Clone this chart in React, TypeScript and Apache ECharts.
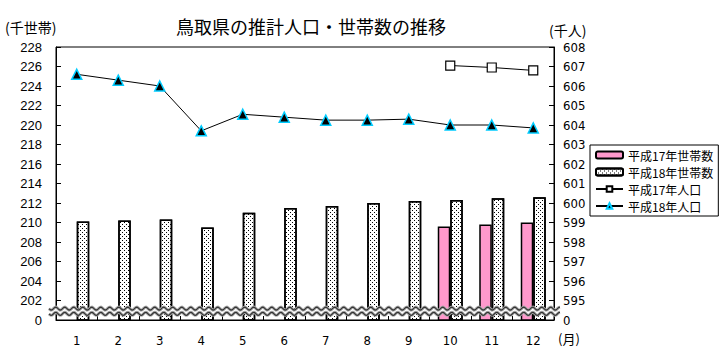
import React, { useEffect, useRef } from "react";
import * as echarts from "echarts";

const months = ["1", "2", "3", "4", "5", "6", "7", "8", "9", "10", "11", "12"];
const households17 = [null, null, null, null, null, null, null, null, null, 209.6, 209.8, 210.0];
const households18 = [210.1, 210.2, 210.3, 209.5, 211.0, 211.5, 211.7, 212.0, 212.2, 212.3, 212.5, 212.6];
const population17 = [null, null, null, null, null, null, null, null, null, 607.05, 606.95, 606.8];
const population18 = [606.6, 606.3, 606.0, 603.7, 604.55, 604.4, 604.25, 604.25, 604.3, 604.0, 604.0, 603.85];
const seriesNames = ["平成17年世帯数", "平成18年世帯数", "平成17年人口", "平成18年人口"];
const leftAxis = { min: 200, max: 228, interval: 2, zeroLabelAt: 200 };
const rightAxis = { min: 594, max: 608, interval: 1, zeroLabelAt: 594 };
const breakValue = 200.9;

const JP = "'Noto Sans CJK JP', 'Noto Sans', sans-serif";
const NUM = "'Liberation Sans', Arial, sans-serif";
const NARROW = "'Liberation Sans Narrow', 'DejaVu Sans Condensed', 'Liberation Sans', sans-serif";

function wavePoints(x0: number, x1: number, yBase: number, amp: number, period: number) {
  const pts: string[] = [];
  for (let x = x0; x <= x1; x += 1) {
    const y = yBase + amp * Math.sin(((x - x0) / period) * Math.PI * 2);
    pts.push(`${x.toFixed(1)} ${y.toFixed(2)}`);
  }
  return pts;
}

export default function App() {
  const ref = useRef<HTMLDivElement>(null);
  useEffect(() => {
    if (!ref.current) return;
    const chart = echarts.init(ref.current, undefined, { renderer: "svg" });
    const option: any = {
      animation: false,
      backgroundColor: "#fff",
      title: {
        text: "鳥取県の推計人口・世帯数の推移",
        left: 306,
        textAlign: "center",
        top: 12,
        textStyle: { fontFamily: JP, fontSize: 18, fontWeight: "normal", color: "#000" },
      },
      graphic: [
        { type: "text", left: 5, top: 20, style: { text: "(千世帯)", font: `14px ${JP}`, fill: "#000" } },
        { type: "text", left: 549, top: 23, style: { text: "(千人)", font: `14px ${JP}`, fill: "#000" } },
        { type: "text", left: 558, top: 332, style: { text: "(月)", font: `13px ${JP}`, fill: "#000" } },
      ],
      legend: {
        orient: "vertical",
        left: 590,
        top: 145,
        data: seriesNames,
        itemWidth: 27,
        itemHeight: 7,
        itemGap: 3,
        itemTextGap: 4,
        padding: [3, 5, 3, 5],
        borderColor: "#000",
        borderWidth: 1,
        borderRadius: 0,
        backgroundColor: "#fff",
        textStyle: { fontFamily: JP, fontSize: 12, lineHeight: 14, color: "#000" },
      },
      grid: {
        left: 56,
        right: 166,
        top: 47,
        bottom: 39,
        show: true,
        borderColor: "#000",
        borderWidth: 1,
        backgroundColor: "transparent",
      },
      xAxis: {
        type: "category",
        data: months,
        boundaryGap: true,
        axisLine: { lineStyle: { color: "#000", width: 1 } },
        axisTick: { show: true, inside: true, length: 4, lineStyle: { color: "#000" } },
        axisLabel: { margin: 14, color: "#000", fontFamily: NARROW, fontSize: 13 },
      },
      yAxis: [
        {
          type: "value",
          min: leftAxis.min,
          max: leftAxis.max,
          interval: leftAxis.interval,
          splitLine: { show: false },
          axisLine: { show: true, lineStyle: { color: "#000" } },
          axisTick: { show: true, inside: true, length: 5, lineStyle: { color: "#000" } },
          axisLabel: {
            margin: 14,
            color: "#000",
            fontFamily: NUM,
            fontSize: 13,
            formatter: (v: number) => (v === leftAxis.zeroLabelAt ? "0" : String(v)),
          },
        },
        {
          type: "value",
          min: rightAxis.min,
          max: rightAxis.max,
          interval: rightAxis.interval,
          splitLine: { show: false },
          axisLine: { show: true, lineStyle: { color: "#000" } },
          axisTick: { show: true, inside: true, length: 5, lineStyle: { color: "#000" } },
          axisLabel: {
            margin: 9,
            color: "#000",
            fontFamily: NARROW,
            fontSize: 13,
            formatter: (v: number) => (v === rightAxis.zeroLabelAt ? "0" : String(v)),
          },
        },
      ],
      series: [
        {
          name: seriesNames[0],
          type: "bar",
          data: households17,
          barWidth: 12.5,
          barGap: "0%",
          itemStyle: { color: "#ff99cc", borderColor: "#000", borderWidth: 1.5 },
          z: 2,
        },
        {
          name: seriesNames[1],
          type: "bar",
          data: households18,
          barWidth: 12.5,
          barGap: "0%",
          itemStyle: {
            color: "#fff",
            borderColor: "#000",
            borderWidth: 1.5,
            decal: {
              symbol: "rect",
              symbolSize: 1,
              color: "#000",
              dashArrayX: [[1, 3], [0, 2, 1, 1]],
              dashArrayY: [1, 1],
              rotation: 0,
            },
          },
          z: 2,
        },
        {
          name: seriesNames[2],
          type: "line",
          yAxisIndex: 1,
          data: population17,
          symbol: "rect",
          symbolSize: 9,
          lineStyle: { color: "#000", width: 1 },
          itemStyle: { color: "#fff", borderColor: "#000", borderWidth: 1.2 },
          z: 4,
        },
        {
          name: seriesNames[3],
          type: "line",
          yAxisIndex: 1,
          data: population18,
          symbol: "triangle",
          symbolSize: 10,
          lineStyle: { color: "#000", width: 1 },
          itemStyle: { color: "#000", borderColor: "#00ccff", borderWidth: 1.5 },
          z: 4,
        },
        {
          name: "break",
          type: "custom",
          silent: true,
          clip: false,
          z: 6,
          data: [[0, breakValue]],
          renderItem: (params: any, api: any) => {
            const cs = params.coordSys;
            const yc = api.coord([0, api.value(1)])[1];
            const x0 = cs.x - 7;
            const x1 = cs.x + cs.width + 6;
            const period = 9;
            const amp = 1.5;
            const half = 2.6;
            const top = wavePoints(x0, x1, yc - half, amp, period);
            const bot = wavePoints(x0, x1, yc + half, amp, period);
            const topD = "M" + top.join(" L");
            const botD = "M" + bot.join(" L");
            const fillD = "M" + top.join(" L") + " L" + bot.slice().reverse().join(" L") + " Z";
            return {
              type: "group",
              children: [
                { type: "path", shape: { pathData: fillD }, style: { fill: "#fff", stroke: null } },
                { type: "path", shape: { pathData: topD }, style: { fill: null, stroke: "#aaa", lineWidth: 3 } },
                { type: "path", shape: { pathData: topD }, style: { fill: null, stroke: "#333", lineWidth: 1.2 } },
                { type: "path", shape: { pathData: botD }, style: { fill: null, stroke: "#aaa", lineWidth: 3 } },
                { type: "path", shape: { pathData: botD }, style: { fill: null, stroke: "#333", lineWidth: 1.2 } },
              ],
            };
          },
        },
      ],
    };
    chart.setOption(option);
    return () => chart.dispose();
  }, []);
  return (
    <div
      ref={ref}
      style={{ position: "absolute", left: 0, top: 0, width: 720, height: 359, background: "#fff" }}
    />
  );
}
